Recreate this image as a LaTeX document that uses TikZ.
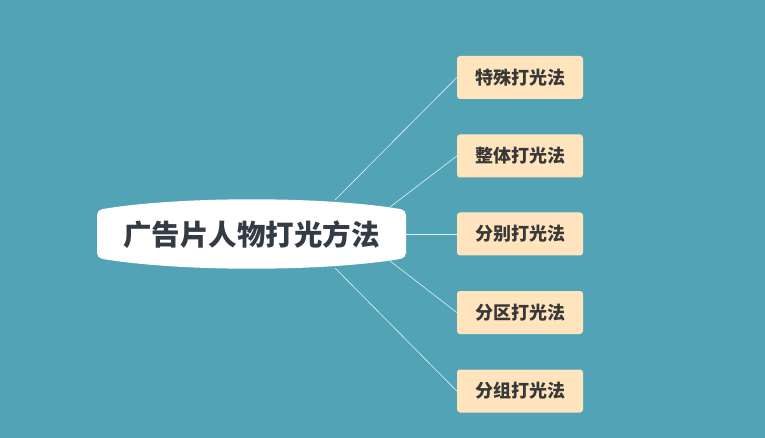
\documentclass[tikz,border=0pt]{standalone}
\usepackage{fontspec}
\newfontfamily\cjk{Noto Sans CJK SC}
\usetikzlibrary{calc}
\definecolor{sea}{RGB}{82,163,181}
\definecolor{peach}{RGB}{255,228,189}
\definecolor{ink}{RGB}{51,59,69}
\tikzset{
	branch/.style={rectangle, rounded corners=3pt, fill=peach, minimum width=126pt, minimum height=43pt, inner sep=0pt, font=\cjk\bfseries\fontsize{18pt}{21pt}\selectfont, text=black!78},
	twig/.style={draw=white, line width=0.6pt, opacity=0.85},
}

\begin{document}
\begin{tikzpicture}[x=1pt, y=-1pt]
			%%%%% START %%%%%
			
			\fill[sea] (0, 0) rectangle (765, 438);
			\useasboundingbox (0, 0) rectangle (765, 438);
			
			% central lens
			\fill[white, rounded corners=5pt] (97, 210) .. controls (180, 196) and (323, 196) .. (406, 210) -- (406, 258) .. controls (323, 272) and (180, 272) .. (97, 258) -- cycle;
			\node[font=\cjk\bfseries\fontsize{28.5pt}{31pt}\selectfont, text=ink] (root) at (251.5, 234.5) {广告片人物打光方法};
			
			\coordinate (r1) at (335, 200);
			\coordinate (r2) at (390, 207);
			\coordinate (r3) at (406, 234);
			\coordinate (r4) at (390, 261);
			\coordinate (r5) at (335, 268);
			
			\node[branch] (b1) at (520, 77.5) {特殊打光法};
			\node[branch] (b2) at (520, 156) {整体打光法};
			\node[branch] (b3) at (520, 234) {分别打光法};
			\node[branch] (b4) at (520, 312.5) {分区打光法};
			\node[branch] (b5) at (520, 391) {分组打光法};
			
			\foreach \i in {1,...,5}
				\draw[twig] (r\i) -- (b\i.west);
			
			%%%%% END %%%%%
\end{tikzpicture}
\end{document}
